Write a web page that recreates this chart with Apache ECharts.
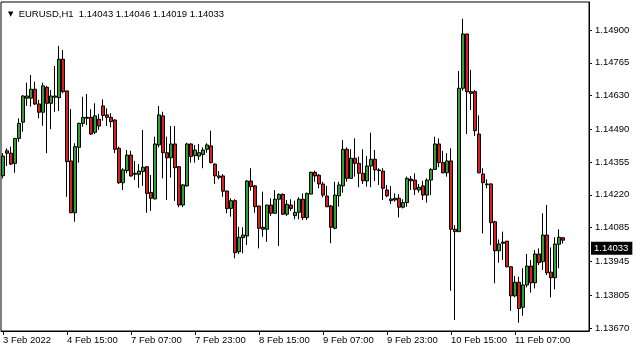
<!DOCTYPE html>
<html>
<head>
<meta charset="utf-8">
<script src="https://cdn.jsdelivr.net/npm/echarts@6/dist/echarts.min.js"></script>
<style>
html, body { margin: 0; padding: 0; background: #fff; }
#main { width: 635px; height: 352px; }
</style>
</head>
<body>
<div id="main"></div>
<script>
var symbolName = 'EURUSD,H1';

// one bar per hour, [open, close, low, high]
var candles = [
  [1.14299,1.14380,1.14288,1.14392],[1.14402,1.14392,1.14339,1.14412],[1.14392,1.14347,1.14343,1.14419],
  [1.14350,1.14453,1.14311,1.14453],[1.14453,1.14515,1.14439,1.14536],[1.14520,1.14628,1.14481,1.14632],
  [1.14619,1.14628,1.14587,1.14683],[1.14619,1.14656,1.14584,1.14715],[1.14656,1.14595,1.14591,1.14687],
  [1.14595,1.14561,1.14536,1.14612],[1.14561,1.14670,1.14505,1.14683],[1.14664,1.14598,1.14392,1.14670],
  [1.14598,1.14628,1.14491,1.14653],[1.14623,1.14628,1.14563,1.14752],[1.14621,1.14780,1.14566,1.14835],
  [1.14780,1.14646,1.14639,1.14818],[1.14649,1.14357,1.14212,1.14649],[1.14360,1.14146,1.14146,1.14574],
  [1.14146,1.14419,1.14109,1.14433],[1.14416,1.14515,1.14353,1.14518],[1.14515,1.14540,1.14501,1.14625],
  [1.14540,1.14536,1.14508,1.14636],[1.14540,1.14471,1.14467,1.14573],[1.14478,1.14546,1.14470,1.14598],
  [1.14532,1.14504,1.14488,1.14554],[1.14587,1.14548,1.14526,1.14614],[1.14550,1.14540,1.14504,1.14577],
  [1.14540,1.14522,1.14499,1.14557],[1.14529,1.14408,1.14392,1.14532],[1.14412,1.14270,1.14265,1.14419],
  [1.14270,1.14323,1.14240,1.14330],[1.14320,1.14384,1.14309,1.14405],[1.14384,1.14298,1.14295,1.14402],
  [1.14309,1.14305,1.14281,1.14360],[1.14305,1.14318,1.14249,1.14347],[1.14316,1.14334,1.14257,1.14488],
  [1.14336,1.14226,1.14146,1.14339],[1.14230,1.14206,1.14154,1.14302],[1.14203,1.14430,1.14202,1.14460],
  [1.14426,1.14550,1.14416,1.14587],[1.14546,1.14394,1.14288,1.14563],[1.14394,1.14373,1.14199,1.14460],
  [1.14373,1.14430,1.14291,1.14504],[1.14430,1.14332,1.14195,1.14504],[1.14336,1.14178,1.14169,1.14339],
  [1.14178,1.14261,1.14169,1.14265],[1.14257,1.14430,1.14254,1.14435],[1.14430,1.14378,1.14353,1.14433],
  [1.14382,1.14405,1.14353,1.14426],[1.14380,1.14394,1.14364,1.14430],[1.14387,1.14405,1.14330,1.14416],
  [1.14408,1.14426,1.14394,1.14433],[1.14422,1.14353,1.14350,1.14485],[1.14347,1.14298,1.14265,1.14350],
  [1.14298,1.14292,1.14284,1.14318],[1.14298,1.14235,1.14212,1.14306],[1.14236,1.14163,1.14144,1.14237],
  [1.14164,1.14196,1.14130,1.14206],[1.14196,1.13981,1.13958,1.14202],[1.13985,1.14045,1.13976,1.14088],
  [1.14043,1.14054,1.13979,1.14086],[1.14050,1.14277,1.14013,1.14281],[1.14277,1.14254,1.14237,1.14330],
  [1.14257,1.14171,1.14146,1.14261],[1.14174,1.14082,1.13999,1.14174],[1.14086,1.14078,1.14047,1.14233],
  [1.14078,1.14178,1.14026,1.14178],[1.14178,1.14144,1.14133,1.14206],[1.14144,1.14202,1.14141,1.14240],
  [1.14202,1.14222,1.14009,1.14226],[1.14222,1.14140,1.14137,1.14226],[1.14140,1.14181,1.14133,1.14199],
  [1.14178,1.14164,1.14154,1.14202],[1.14134,1.14148,1.14119,1.14196],[1.14148,1.14202,1.14119,1.14210],
  [1.14202,1.14126,1.14116,1.14226],[1.14126,1.14226,1.14116,1.14229],[1.14223,1.14313,1.14223,1.14316],
  [1.14313,1.14298,1.14274,1.14320],[1.14301,1.14265,1.14247,1.14306],[1.14265,1.14219,1.14210,1.14274],
  [1.14215,1.14171,1.14169,1.14257],[1.14174,1.14086,1.14020,1.14178],[1.14082,1.14219,1.14078,1.14274],
  [1.14216,1.14261,1.14171,1.14274],[1.14257,1.14408,1.14229,1.14446],[1.14408,1.14288,1.14274,1.14416],
  [1.14288,1.14371,1.14288,1.14408],[1.14371,1.14350,1.14295,1.14453],[1.14350,1.14309,1.14251,1.14378],
  [1.14309,1.14278,1.14265,1.14408],[1.14277,1.14339,1.14254,1.14380],[1.14339,1.14367,1.14251,1.14477],
  [1.14367,1.14323,1.14277,1.14405],[1.14323,1.14320,1.14261,1.14330],[1.14318,1.14247,1.14199,1.14330],
  [1.14240,1.14216,1.14210,1.14261],[1.14203,1.14196,1.14182,1.14257],[1.14199,1.14206,1.14192,1.14226],
  [1.14206,1.14169,1.14127,1.14223],[1.14169,1.14188,1.14164,1.14202],[1.14188,1.14288,1.14171,1.14295],
  [1.14285,1.14278,1.14240,1.14298],[1.14281,1.14243,1.14219,1.14309],[1.14240,1.14251,1.14229,1.14265],
  [1.14257,1.14219,1.14199,1.14278],[1.14219,1.14281,1.14188,1.14288],[1.14281,1.14325,1.14219,1.14330],
  [1.14325,1.14430,1.14323,1.14460],[1.14430,1.14353,1.14334,1.14453],[1.14353,1.14311,1.14309,1.14402],
  [1.14311,1.14360,1.14295,1.14392],[1.14360,1.14078,1.13824,1.14412],[1.14078,1.14068,1.13703,1.14095],
  [1.14068,1.14660,1.14068,1.14731],[1.14660,1.14884,1.14650,1.14947],[1.14884,1.14645,1.14471,1.14884],
  [1.14646,1.14639,1.14570,1.14736],[1.14646,1.14485,1.14463,1.14653],[1.14471,1.14311,1.14309,1.14548],
  [1.14306,1.14270,1.14061,1.14330],[1.14265,1.14262,1.14247,1.14284],[1.14265,1.14105,1.14013,1.14268],
  [1.14109,1.13989,1.13855,1.14113],[1.13989,1.14017,1.13940,1.14036],[1.14025,1.14020,1.13951,1.14068],
  [1.14029,1.13923,1.13921,1.14029],[1.13923,1.13803,1.13741,1.13926],[1.13803,1.13859,1.13797,1.13885],
  [1.13859,1.13751,1.13692,1.13882],[1.13756,1.13848,1.13721,1.13917],[1.13848,1.13926,1.13838,1.13976],
  [1.13926,1.13857,1.13816,1.13951],[1.13857,1.13976,1.13834,1.13992],[1.13976,1.13940,1.13930,1.13999],
  [1.13944,1.14054,1.13910,1.14144],[1.14054,1.13898,1.13889,1.14178],[1.13901,1.13878,1.13797,1.14003],
  [1.13878,1.14017,1.13830,1.14045],[1.14016,1.14045,1.13917,1.14078],[1.14043,1.14033,1.14019,1.14046]
];

// time labels, one every 16 bars
var xTickLabels = ['3 Feb 2022', '4 Feb 15:00', '7 Feb 07:00', '7 Feb 23:00', '8 Feb 15:00',
  '9 Feb 07:00', '9 Feb 23:00', '10 Feb 15:00', '11 Feb 07:00'];
var labelStep = 16;

var priceTicks = [1.13670, 1.13805, 1.13945, 1.14085, 1.14220, 1.14355, 1.14490, 1.14630, 1.14765, 1.14900];
var priceMin = 1.13658;
var priceMax = 1.15016;

// empty space on the right (chart shift)
var padBars = 6;

var FONT = '"Liberation Sans", Arial, sans-serif';
var upColor = '#30a030';
var downColor = '#d81e1e';

var categories = [];
for (var i = 0; i < candles.length + padBars; i++) categories.push(String(i));

var last = candles[candles.length - 1];
var lastPrice = last[1];
var header = symbolName + '  ' + [last[0], last[3], last[2], last[1]].map(function (v) { return v.toFixed(5); }).join(' ');

function isTickBar(idx) {
  return idx % labelStep === 0 && idx / labelStep < xTickLabels.length;
}

var chart = echarts.init(document.getElementById('main'), null, { renderer: 'canvas' });

var option = {
  backgroundColor: '#fff',
  animation: false,
  title: {
    text: '{tri|▼}  ' + header,
    left: 3,
    top: 4,
    textStyle: {
      fontFamily: FONT,
      fontSize: 9.5,
      fontWeight: 'normal',
      color: '#000',
      rich: {
        tri: { fontSize: 7, color: '#000', fontFamily: 'DejaVu Sans' }
      }
    }
  },
  grid: {
    left: 1,
    right: 46,
    top: 2,
    bottom: 21,
    show: true,
    borderColor: '#000',
    borderWidth: 1,
    backgroundColor: '#fff'
  },
  xAxis: {
    type: 'category',
    data: categories,
    boundaryGap: true,
    axisLine: { show: true, lineStyle: { color: '#000', width: 1 } },
    axisTick: {
      show: true,
      alignWithLabel: true,
      length: 4,
      interval: function (idx) { return isTickBar(idx); },
      lineStyle: { color: '#000' }
    },
    axisLabel: {
      interval: function (idx) { return isTickBar(idx); },
      align: 'left',
      margin: 4,
      color: '#000',
      fontFamily: FONT,
      fontSize: 9.5,
      formatter: function (v, idx) { return xTickLabels[idx / labelStep] || ''; }
    },
    splitLine: { show: false }
  },
  yAxis: {
    type: 'value',
    position: 'right',
    min: priceMin,
    max: priceMax,
    scale: true,
    axisLine: { show: true, lineStyle: { color: '#000', width: 1 } },
    axisTick: {
      show: true,
      length: 3,
      customValues: priceTicks,
      lineStyle: { color: '#000' }
    },
    axisLabel: {
      customValues: priceTicks,
      margin: 6,
      color: '#000',
      fontFamily: FONT,
      fontSize: 9.5,
      formatter: function (v) { return v.toFixed(5); }
    },
    splitLine: { show: false }
  },
  series: [{
    type: 'candlestick',
    data: candles,
    barWidth: 3,
    itemStyle: {
      color: upColor,
      color0: downColor,
      borderColor: '#000',
      borderColor0: '#000',
      borderColorDoji: '#000',
      borderWidth: 1
    },
    markLine: {
      symbol: 'none',
      silent: true,
      animation: false,
      lineStyle: { color: 'rgba(0,0,0,0)', width: 0 },
      label: {
        position: 'end',
        distance: 2,
        formatter: function () { return lastPrice.toFixed(5); },
        backgroundColor: '#000',
        color: '#fff',
        padding: [2, 4, 1, 3],
        fontFamily: FONT,
        fontSize: 9.5
      },
      data: [{ yAxis: lastPrice }]
    }
  }]
};

chart.setOption(option);
</script>
</body>
</html>
